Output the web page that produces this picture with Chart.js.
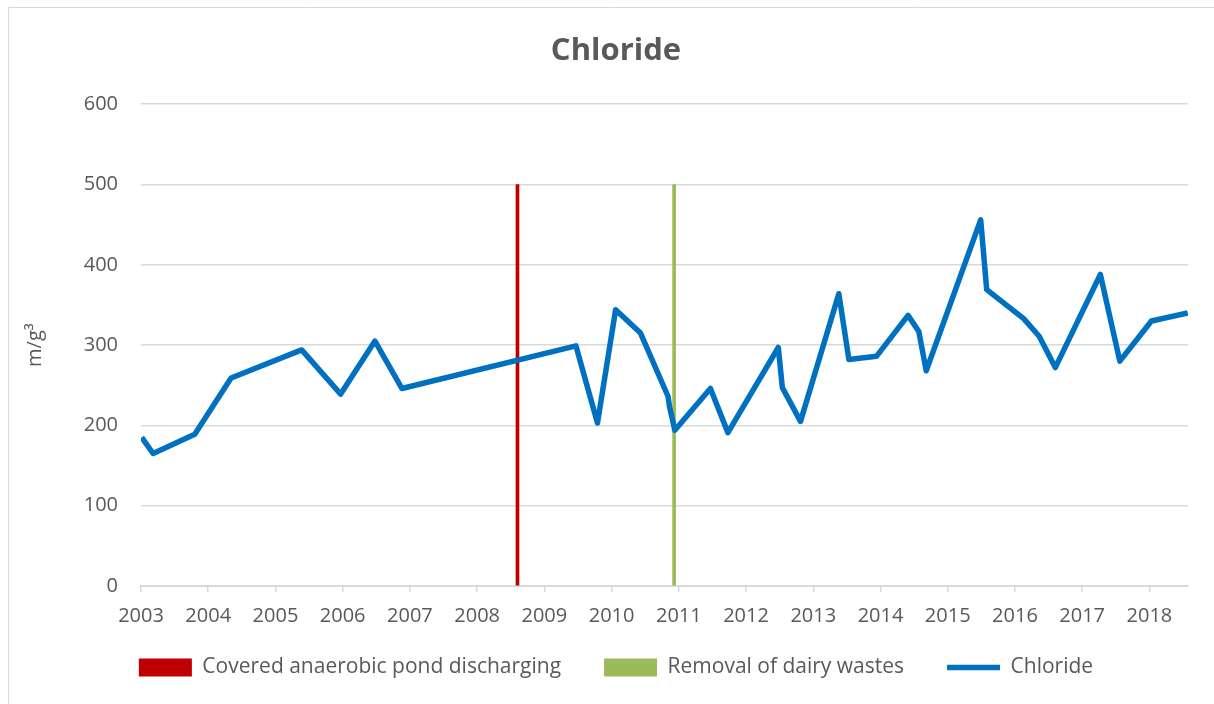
<!DOCTYPE html>
<html>
<head>
<meta charset="utf-8">
<title>Chloride</title>
<script src="https://cdn.jsdelivr.net/npm/chart.js@4.4.1/dist/chart.umd.min.js"></script>
<style>
  html, body { margin: 0; padding: 0; background: #ffffff; }
  #wrap { position: relative; width: 1214px; height: 704px; }
</style>
</head>
<body>
<div id="wrap"><canvas id="chart" width="1214" height="704"></canvas></div>
<script>
// Sampling dates (decimal years) and chloride readings
const sampleYears = [
  2003.01, 2003.18, 2003.80, 2004.34, 2005.39, 2005.97, 2006.48, 2006.88,
  2009.47, 2009.79, 2010.06, 2010.43, 2010.84, 2010.86, 2010.94, 2011.47,
  2011.73, 2012.48, 2012.54, 2012.81, 2013.38, 2013.53, 2013.94, 2014.41,
  2014.57, 2014.68, 2015.49, 2015.58, 2016.13, 2016.36, 2016.60, 2017.27,
  2017.56, 2018.03, 2018.57
];
const chlorideValues = [
  185, 165, 189, 259, 294, 239, 305, 246,
  299, 203, 344, 315, 236, 224, 194, 246,
  191, 297, 247, 205, 364, 282, 286, 337,
  317, 268, 456, 369, 333, 311, 272, 388,
  280, 330, 340
];

// Management events, drawn as marker columns
const eventLabels = ['Covered anaerobic pond discharging', 'Removal of dairy wastes'];
const eventYears = [2008.60, 2010.93];
const eventHeights = [500, 500];

// Axis ticks
const yearTicks = [2003, 2004, 2005, 2006, 2007, 2008, 2009, 2010, 2011, 2012, 2013, 2014, 2015, 2016, 2017, 2018];
const axisStart = 2003;
const axisEnd = 2018.574;

const TEXT = '#595959';
const GRID = '#D9D9D9';
const FONT = "'Open Sans', 'Liberation Sans', sans-serif";

// Outer frame of the chart object
const frame = {
  id: 'frame',
  beforeDraw(chart) {
    const c = chart.ctx;
    c.save();
    c.fillStyle = '#ffffff';
    c.fillRect(0, 0, chart.width, chart.height);
    c.strokeStyle = '#D9D9D9';
    c.lineWidth = 1;
    c.beginPath();
    c.moveTo(8.5, chart.height);
    c.lineTo(8.5, 7.5);
    c.lineTo(chart.width, 7.5);
    c.stroke();
    c.restore();
  }
};

// Pull the legend row up closer to the axis labels
const legendLift = {
  id: 'legendLift',
  afterLayout(chart) {
    const lg = chart.legend;
    if (lg) { lg.top -= 12; lg.bottom -= 12; }
  }
};

const chloridePoints = sampleYears.map((x, i) => ({ x, y: chlorideValues[i] }));

new Chart(document.getElementById('chart'), {
  type: 'line',
  data: {
    datasets: [
      {
        type: 'bar',
        label: eventLabels[0],
        data: [{ x: eventYears[0], y: eventHeights[0] }],
        backgroundColor: '#C00000',
        borderColor: '#C00000',
        borderWidth: 0,
        barThickness: 3,
        grouped: false,
        pointStyle: 'rect',
        order: 1
      },
      {
        type: 'bar',
        label: eventLabels[1],
        data: [{ x: eventYears[1], y: eventHeights[1] }],
        backgroundColor: '#9BBB59',
        borderColor: '#9BBB59',
        borderWidth: 0,
        barThickness: 3,
        grouped: false,
        pointStyle: 'rect',
        order: 1
      },
      {
        type: 'line',
        label: 'Chloride',
        data: chloridePoints,
        borderColor: '#0070C0',
        backgroundColor: '#0070C0',
        borderWidth: 5.5,
        pointRadius: 0,
        tension: 0,
        borderJoinStyle: 'round',
        pointStyle: 'line',
        order: 0
      }
    ]
  },
  options: {
    responsive: false,
    animation: false,
    layout: { padding: { left: 44, right: 26, top: 6, bottom: 4 } },
    plugins: {
      title: {
        display: true,
        text: 'Chloride',
        color: TEXT,
        font: { family: FONT, size: 31, weight: 'bold' },
        padding: { top: 27, bottom: 34 }
      },
      legend: {
        position: 'bottom',
        labels: {
          color: TEXT,
          font: { family: FONT, size: 21 },
          usePointStyle: true,
          pointStyleWidth: 53,
          boxHeight: 18,
          padding: 43,
          sort: (a, b) => a.datasetIndex - b.datasetIndex
        }
      },
      tooltip: { enabled: false }
    },
    scales: {
      x: {
        type: 'linear',
        min: axisStart,
        max: axisEnd,
        offset: false,
        afterFit(scale) { scale.height = 40; },
        afterBuildTicks(scale) { scale.ticks = yearTicks.map(v => ({ value: v })); },
        grid: {
          offset: false,
          drawOnChartArea: false,
          drawTicks: true,
          tickLength: 6,
          color: GRID,
          lineWidth: 1.5
        },
        border: { display: true, color: GRID, width: 2 },
        ticks: {
          color: TEXT,
          font: { family: FONT, size: 20 },
          padding: 12,
          maxRotation: 0,
          autoSkip: false,
          callback: v => String(v)
        }
      },
      y: {
        min: 0,
        max: 600,
        afterFit(scale) { scale.width = 97; },
        grid: { color: GRID, lineWidth: 1.5, drawTicks: false },
        border: { display: false },
        ticks: {
          stepSize: 100,
          color: TEXT,
          font: { family: FONT, size: 20 },
          padding: 23
        },
        title: {
          display: true,
          text: 'm/g³',
          color: TEXT,
          font: { family: FONT, size: 20 },
          padding: { top: -21, bottom: 0 }
        }
      }
    }
  },
  plugins: [frame, legendLift]
});
</script>
</body>
</html>
